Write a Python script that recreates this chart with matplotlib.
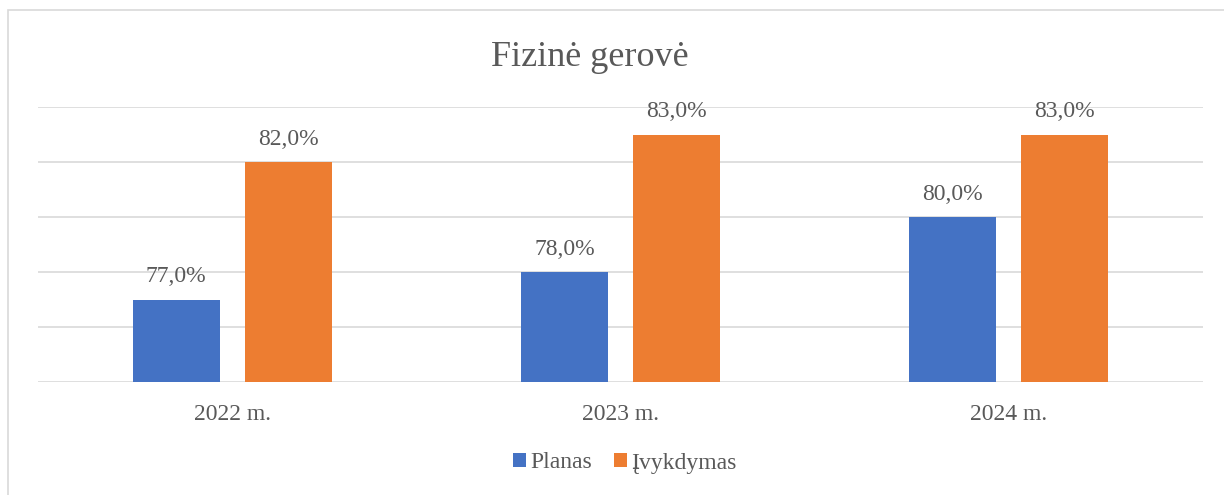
import matplotlib
matplotlib.use("Agg")
import matplotlib.pyplot as plt
import numpy as np
from matplotlib.patches import Rectangle

categories = ["2022 m.", "2023 m.", "2024 m."]
planas = [77.0, 78.0, 80.0]
ivykdymas = [82.0, 83.0, 83.0]
series_names = ["Planas", "Įvykdymas"]
title = "Fizinė gerovė"

plt.rcParams['font.family'] = ['Liberation Serif', 'DejaVu Serif']
txt = '#595959'
W, H = 1224, 495
fig = plt.figure(figsize=(W/100, H/100), dpi=100)

# outer chart border
fig.patches.append(Rectangle((8/W, -0.1), 1.2, 1 - 10/H + 0.1, transform=fig.transFigure,
                             fill=False, edgecolor='#d9d9d9', linewidth=1.2))

ax = fig.add_axes([38/W, 1 - 382/H, (1203-38)/W, (382-107)/H])
x = np.arange(len(categories))
bw = 0.224
gap = 0.064
off = (bw + gap) / 2
b1 = ax.bar(x - off, [v - 74 for v in planas], bw, bottom=74, color='#4472C4', label=series_names[0], zorder=3)
b2 = ax.bar(x + off, [v - 74 for v in ivykdymas], bw, bottom=74, color='#ED7D31', label=series_names[1], zorder=3)

for xs, vals in ((x - off, planas), (x + off, ivykdymas)):
    for xi, v in zip(xs, vals):
        ax.text(xi, v + 0.45, f"{v:.1f}%".replace('.', ','), ha='center', va='bottom',
                fontsize=17, color=txt)

ax.set_xlim(-0.5, 2.5)
ax.set_ylim(74, 84)
ax.set_yticks(np.arange(74, 85, 2))
ax.yaxis.grid(True, color='#d9d9d9', linewidth=1.2, zorder=0)
ax.tick_params(axis='y', left=False, labelleft=False)
ax.tick_params(axis='x', bottom=False, labelsize=17, labelcolor=txt, pad=12)
ax.set_xticks(x)
ax.set_xticklabels(categories)
for s in ax.spines.values():
    s.set_visible(False)
ax.set_facecolor('none')

fig.text(590/W, 1 - 58/H, title, ha='center', va='center', fontsize=26, color=txt)

leg = fig.legend(handles=[b1, b2], labels=series_names, loc='center', bbox_to_anchor=(625/W, 1 - 463/H),
                 ncol=2, frameon=False, fontsize=17, handlelength=0.55, handleheight=0.55,
                 handletextpad=0.2, columnspacing=0.9, labelcolor=txt)

fig.savefig("out.png", dpi=100)
